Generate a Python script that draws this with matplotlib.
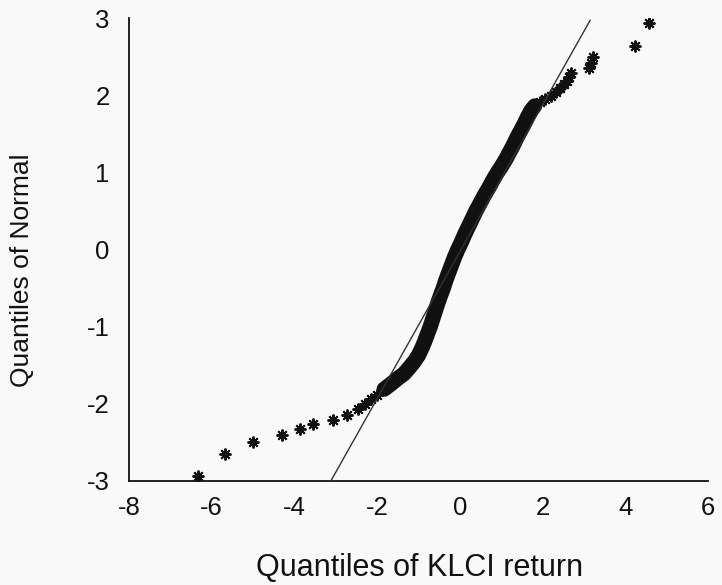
import matplotlib
matplotlib.use("Agg")
import matplotlib.pyplot as plt

# ---- data ----
# sparse lower tail points (KLCI return quantile, Normal quantile)
tail_lo_x = [-6.34, -5.68, -5.01, -4.29, -3.86, -3.55, -3.07, -2.73, -2.47]
tail_lo_y = [-2.93, -2.65, -2.50, -2.40, -2.33, -2.26, -2.21, -2.15, -2.07]

# dense central part of the Q-Q curve
core_x = [-2.30, -2.15, -2.00, -1.83, -1.66, -1.50, -1.35, -1.22, -1.10, -1.00,
          -0.92, -0.85, -0.78, -0.71, -0.65, -0.59, -0.53, -0.47, -0.40, -0.34,
          -0.27, -0.20, -0.13, -0.05, 0.04, 0.12, 0.21, 0.30, 0.39, 0.49,
          0.59, 0.70, 0.80, 0.91, 1.01, 1.11, 1.20, 1.29, 1.37, 1.46,
          1.55, 1.63, 1.72, 1.81, 1.93, 2.06, 2.20, 2.32, 2.43, 2.52,
          2.59, 2.64, 2.68]
core_y = [-2.00, -1.94, -1.88, -1.81, -1.74, -1.67, -1.61, -1.53, -1.45, -1.37,
          -1.28, -1.19, -1.09, -0.99, -0.89, -0.79, -0.69, -0.60, -0.50, -0.40,
          -0.30, -0.20, -0.10, 0.00, 0.10, 0.20, 0.30, 0.40, 0.50, 0.60,
          0.70, 0.80, 0.90, 1.00, 1.08, 1.17, 1.26, 1.35, 1.44, 1.53,
          1.62, 1.71, 1.80, 1.86, 1.91, 1.95, 1.99, 2.04, 2.09, 2.14,
          2.19, 2.24, 2.29]

# sparse upper tail points
tail_hi_x = [3.13, 3.16, 3.21, 4.23, 4.57]
tail_hi_y = [2.35, 2.42, 2.50, 2.64, 2.93]

# reference (normal) line end points
line_x = [-3.12, 3.15]
line_y = [-3.00, 2.97]

x_ticks = [-8, -6, -4, -2, 0, 2, 4, 6]
y_ticks = [-3, -2, -1, 0, 1, 2, 3]
x_label = "Quantiles of KLCI return"
y_label = "Quantiles of Normal"

plt.rcParams['font.family'] = ['Liberation Sans', 'DejaVu Sans']

W, H = 722, 585
fig = plt.figure(figsize=(W / 100, H / 100), dpi=100)
fig.patch.set_facecolor('#f9f9f9')

ax = fig.add_axes([129 / W, 1 - 481 / H, 579 / W, 463 / H])
ax.set_facecolor('#f9f9f9')
ax.set_xlim(-8, 6)
ax.set_ylim(-3, 3)

mk = dict(marker=(8, 2, 0), markersize=8.5, markeredgewidth=1.4,
          color='#111111', linestyle='none')

# band for the densely packed centre
ax.plot(core_x[3:44], core_y[3:44], color='#111111', lw=11,
        solid_capstyle='round', solid_joinstyle='round', zorder=2)
ax.plot(core_x, core_y, zorder=3, **mk)
ax.plot(tail_lo_x, tail_lo_y, zorder=3, **mk)
ax.plot(tail_hi_x, tail_hi_y, zorder=3, **mk)

ax.plot(line_x, line_y, color='#333333', lw=1.0, zorder=4, clip_on=False)

for s in ['top', 'right']:
    ax.spines[s].set_visible(False)
for s in ['left', 'bottom']:
    ax.spines[s].set_linewidth(1.3)
    ax.spines[s].set_color('#111111')

ax.set_xticks(x_ticks)
ax.set_yticks(y_ticks)
ax.set_xticklabels([str(v) for v in x_ticks])
ax.set_yticklabels([str(v) for v in y_ticks])
ax.tick_params(axis='both', length=0, labelsize=18.5, colors='#111111')
ax.tick_params(axis='x', pad=11)
ax.tick_params(axis='y', pad=14)

fig.text(420 / W, 1 - 568 / H, x_label, ha='center', va='center',
         fontsize=22, color='#111111')
fig.text(22 / W, 1 - 270 / H, y_label, ha='center', va='center',
         rotation=90, fontsize=19, color='#111111')

fig.savefig('out.png', dpi=100, facecolor=fig.get_facecolor())
